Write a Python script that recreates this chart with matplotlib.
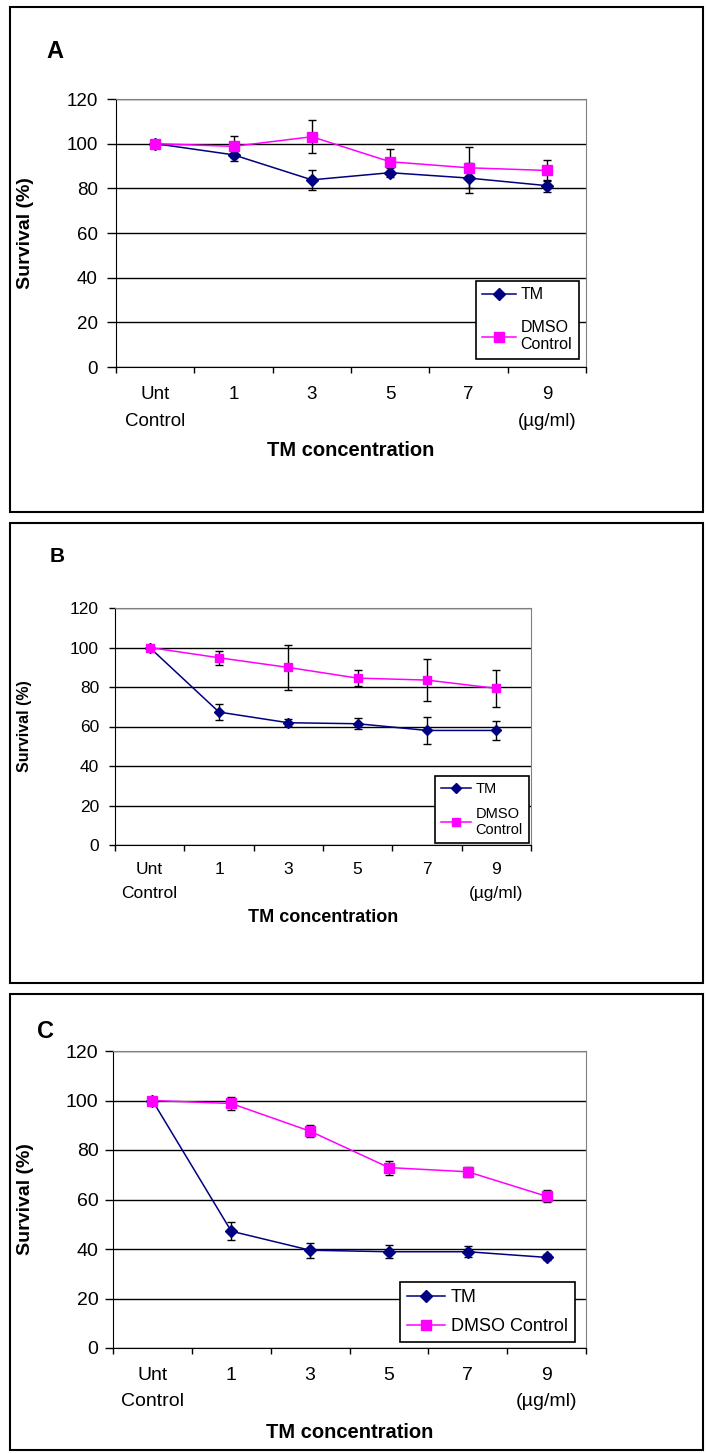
import numpy as np
import matplotlib
matplotlib.use("Agg")
import matplotlib.pyplot as plt
from matplotlib.patches import Rectangle

plt.rcParams["font.family"] = ["Liberation Sans", "DejaVu Sans"]

categories = ["Unt\nControl", "1", "3", "5", "7", "9\n(µg/ml)"]
y_ticks = [0, 20, 40, 60, 80, 100, 120]

# panel A
a_tm = [100, 95.0, 83.8, 87.0, 84.6, 81.2]
a_tm_err = [0, 2.8, 4.5, 2.1, 6.7, 2.7]
a_dmso = [100, 98.8, 103.1, 91.9, 89.2, 88.0]
a_dmso_err = [0, 4.6, 7.5, 5.8, 9.1, 4.9]

# panel B
b_tm = [100, 67.3, 61.9, 61.4, 58.0, 58.0]
b_tm_err = [0, 4.1, 1.7, 2.8, 7.0, 4.9]
b_dmso = [100, 94.8, 89.9, 84.5, 83.5, 79.3]
b_dmso_err = [0, 3.5, 11.3, 4.1, 10.8, 9.2]

# panel C
c_tm = [100, 47.2, 39.5, 38.9, 38.9, 36.6]
c_tm_err = [0, 3.6, 3.0, 2.7, 2.3, 1.2]
c_dmso = [100, 98.8, 87.6, 72.9, 71.2, 61.3]
c_dmso_err = [0, 2.8, 2.4, 2.8, 2.0, 2.4]

W, H = 708, 1453
TM_COLOR = "#000080"
DMSO_COLOR = "#FF00FF"


def fig_rect(l, t, r, b):
    return [l / W, 1 - b / H, (r - l) / W, (b - t) / H]


def draw_panel(fig, letter, tm, tm_err, dmso, dmso_err, st):
    l, t, r, b = st["box"]
    fig.add_artist(Rectangle((l / W, 1 - b / H), (r - l) / W, (b - t) / H,
                             transform=fig.transFigure, fill=False,
                             edgecolor="black", lw=1.5))

    al, at, ar, ab = st["axes"]
    ax = fig.add_axes(fig_rect(al, at, ar, ab))
    x = np.arange(len(categories))

    ax.plot(x, tm, color=TM_COLOR, marker="D", ms=st["ms"], lw=1.1,
            label="TM", zorder=3)
    ax.plot(x, dmso, color=DMSO_COLOR, marker="s", ms=st["ms"], lw=1.1,
            label=st["dmso_label"], zorder=3)
    for vals, errs in ((tm, tm_err), (dmso, dmso_err)):
        idx = [i for i, e in enumerate(errs) if e > 0]
        ax.errorbar(x[idx], np.array(vals)[idx], yerr=np.array(errs)[idx],
                    fmt="none", ecolor="black", elinewidth=1, capsize=3,
                    capthick=1, zorder=2.5)

    ax.set_xlim(-0.5, len(categories) - 0.5)
    ax.set_ylim(0, 120)
    ax.set_yticks(y_ticks)
    ax.set_axisbelow(True)
    ax.yaxis.grid(True, color="black", lw=1)

    ax.set_xticks(np.arange(-0.5, len(categories), 1))
    ax.set_xticklabels([])
    ax.set_xticks(x, minor=True)
    ax.set_xticklabels(categories, minor=True)
    ax.tick_params(axis="x", which="major", direction="out", length=4.5, width=1)
    ax.tick_params(axis="x", which="minor", length=0, pad=st["xpad"],
                   labelsize=st["tick_fs"])
    ax.tick_params(axis="y", direction="out", length=st["ylen"], width=1,
                   pad=st["ypad"], labelsize=st["tick_fs"])
    for lab in ax.get_xticklabels(minor=True):
        lab.set_linespacing(1.75)

    for side in ("top", "right"):
        ax.spines[side].set_color("#808080")
    for side in ("left", "bottom"):
        ax.spines[side].set_color("black")

    leg = ax.legend(loc="upper left", bbox_to_anchor=st["leg_anchor"],
                    borderaxespad=0, fontsize=st["leg_fs"], fancybox=False,
                    framealpha=1, edgecolor="black", handlelength=2.1,
                    handletextpad=0.3, labelspacing=st["leg_space"],
                    borderpad=0.4)
    leg.get_frame().set_linewidth(1.2)

    fig.text(st["letter_xy"][0] / W, 1 - st["letter_xy"][1] / H, letter,
             fontsize=st["letter_fs"], fontweight="bold", ha="left", va="center")
    fig.text(25 / W, 1 - (at + ab) / 2 / H, "Survival (%)", rotation=90,
             fontsize=st["ylab_fs"], fontweight="bold", ha="center", va="center")
    fig.text((al + ar) / 2 / W, 1 - st["xlab_y"] / H, "TM concentration",
             fontsize=st["xlab_fs"], fontweight="bold", ha="center", va="center")
    return ax


styles = {
    "A": dict(box=(10, 7, 703, 512), axes=(116, 99, 586, 367), ms=6.5,
              dmso_label="DMSO\nControl", tick_fs=13.5, xpad=13.5, ylen=6.5,
              ypad=6.5, leg_anchor=(0.766, 0.321), leg_fs=11.5, leg_space=1.1,
              letter_xy=(46, 52), letter_fs=17, ylab_fs=14, xlab_y=451,
              xlab_fs=14.5),
    "B": dict(box=(10, 523, 703, 983), axes=(115, 608, 531, 845), ms=5.5,
              dmso_label="DMSO\nControl", tick_fs=12.5, xpad=12, ylen=4.5,
              ypad=7, leg_anchor=(0.769, 0.291), leg_fs=10.5, leg_space=0.75,
              letter_xy=(50, 557), letter_fs=15, ylab_fs=11.5, xlab_y=918,
              xlab_fs=13),
    "C": dict(box=(10, 994, 703, 1450), axes=(113, 1051, 586, 1348), ms=6.5,
              dmso_label="DMSO Control", tick_fs=14, xpad=13.5, ylen=5.5,
              ypad=5, leg_anchor=(0.607, 0.222), leg_fs=13, leg_space=0.65,
              letter_xy=(37, 1032), letter_fs=17, ylab_fs=14, xlab_y=1433,
              xlab_fs=14.5),
}

fig = plt.figure(figsize=(W / 100, H / 100), dpi=100)
draw_panel(fig, "A", a_tm, a_tm_err, a_dmso, a_dmso_err, styles["A"])
draw_panel(fig, "B", b_tm, b_tm_err, b_dmso, b_dmso_err, styles["B"])
draw_panel(fig, "C", c_tm, c_tm_err, c_dmso, c_dmso_err, styles["C"])
fig.savefig("out.png", dpi=100)
